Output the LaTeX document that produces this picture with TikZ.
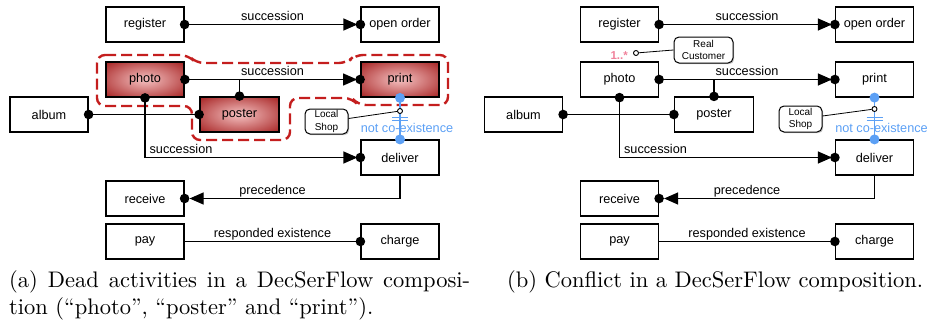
\documentclass[tikz,border=0pt]{standalone}
\usepackage{fontspec}
\newfontfamily\diafont{Liberation Sans}
\newfontfamily\capfont{lmroman10-regular.otf}
\usetikzlibrary{arrows.meta,calc,shadows}

\definecolor{deadred}{RGB}{196,30,30}
\definecolor{deadin}{RGB}{238,180,180}
\definecolor{deadout}{RGB}{170,42,42}
\definecolor{ncblue}{RGB}{92,160,245}
\definecolor{cardpink}{RGB}{240,130,155}

% soft radial fill, light in the middle and red towards the border
\pgfdeclareradialshading{deadshade}{\pgfpoint{0bp}{0bp}}{%
  color(0bp)=(deadin); color(3bp)=(deadin); color(34bp)=(deadout);
  color(72bp)=(deadout!88!black)}

\tikzset{
  act/.style={draw, line width=1.2pt, fill=white, minimum width=78pt,
    minimum height=35pt, inner sep=0pt,
    font=\diafont\fontsize{12.7}{15}\selectfont},
  dead/.style={shading=deadshade, line width=1.8pt},
  live/.style={},
  link/.style={line width=1.2pt},
  succ/.style={link, -{Triangle[length=14pt,width=12pt]}, shorten >=3pt},
  prec/.style={link, -{Triangle[length=14pt,width=12pt]}, shorten >=5pt},
  lbl/.style={font=\diafont\fontsize{12.7}{15}\selectfont, inner sep=0pt,
    anchor=base},
  memo/.style={draw, line width=1pt, rounded corners=5pt, fill=white,
    align=center, inner sep=1pt,
    font=\diafont\fontsize{10}{12.5}\selectfont,
    drop shadow={shadow xshift=1.2pt, shadow yshift=-1.2pt, opacity=0.45}},
  joint/.style={circle, draw, line width=0.9pt, fill=white, inner sep=0pt,
    minimum size=5pt},
  capt/.style={anchor=base west, inner sep=0pt,
    font=\capfont\fontsize{22.5}{27}\selectfont},
}

% One DecSerFlow composition: #1 name prefix, #2 style of photo/poster/print,
% #3 horizontal offset
\newcommand\decpanel[3]{%
  \node[act] (#1reg) at (#3+145,24.5) {register};
  \node[act] (#1open) at (#3+400,24.5) {open order};
  \node[act,#2] (#1photo) at (#3+145,79.5) {photo};
  \node[act,#2] (#1print) at (#3+400,79.5) {print};
  \node[act] (#1album) at (#3+49,114.5) {album};
  \node[act,#2,minimum width=79pt] (#1poster) at (#3+239.5,114.5) {poster};
  \node[act] (#1deliver) at (#3+400,157.5) {deliver};
  \node[act] (#1receive) at (#3+145,198.5) {receive};
  \node[act] (#1pay) at (#3+145,241.5) {pay};
  \node[act] (#1charge) at (#3+400,241.5) {charge};
  % constraints
  \draw[succ] (#1reg.east) -- node[lbl, yshift=4.5pt] {succession} (#1open.west);
  \draw[succ] (#1photo.east) -- node[lbl, yshift=4.5pt] {succession} (#1print.west);
  \draw[link] (#1poster.north) -- (#1poster.north |- #1photo.east);
  \draw[link] (#1album.east) -- (#1poster.west);
  \draw[succ] (#1photo.south) |- node[lbl, anchor=base west, pos=0.5,
    xshift=4pt, yshift=4.5pt] {succession} (#1deliver.west);
  \draw[prec] (#1deliver.south) |- (#1receive.east);
  \node[lbl, yshift=4.5pt] at ($(#1receive.east)!0.5!(#1receive.east -| #1charge.west)$) {precedence};
  \draw[link] (#1pay.east) -- node[lbl, yshift=4.5pt] {responded existence} (#1charge.west);
  \foreach \a in {reg.east, open.west, photo.east, print.west, poster.north,
      album.east, poster.west, photo.south, deliver.west, receive.east,
      charge.west}
    \fill (#1\a) circle (4.8pt);
  % not co-existence
  \node[lbl, text=ncblue] at ([xshift=7pt, yshift=-35pt]#1print.south) {not co-existence};
  \draw[ncblue, line width=1.2pt] (#1print.south) -- (#1deliver.north);
  \draw[ncblue, line width=1pt] ([xshift=-8pt, yshift=-19.5pt]#1print.south) -- ++(16,0);
  \draw[ncblue, line width=1pt] ([xshift=-8pt, yshift=-23pt]#1print.south) -- ++(16,0);
  \fill[ncblue] (#1print.south) circle (5pt);
  \fill[ncblue] (#1deliver.north) circle (5pt);
}

\begin{document}
\begin{tikzpicture}[x=1pt, y=-1pt]
\useasboundingbox (0,0) rectangle (929,324);

% (a) dead activities, grouped by a dashed outline
\draw[deadred, line width=2.4pt, dash pattern=on 11pt off 5pt, rounded corners=8pt]
  (97,55) -- (188,55) -- (196,63) -- (347,63) -- (355,55) -- (448,55)
  -- (448,105) -- (358,105) -- (352,98) -- (290,98) -- (290,140)
  -- (192,140) -- (192,106) -- (97,106) -- cycle;
\decpanel{A}{dead}{0}
\node[memo, minimum width=43pt, minimum height=25pt] (Ashop) at (326.5,121.5) {Local\\Shop};
\node[joint] (Apin) at (400,111) {};
\draw[line width=0.8pt] ([yshift=3pt]Ashop.east) -- (Apin);

% (b) conflict
\decpanel{B}{live}{474.5}
\node[memo, minimum width=43pt, minimum height=26pt] (Bshop) at (800.5,119) {Local\\Shop};
\node[joint] (Bpin) at (874.5,109) {};
\draw[line width=0.8pt] ([yshift=3pt]Bshop.east) -- (Bpin);
\node[memo, minimum width=59pt, minimum height=26pt] (Breal) at (703.5,50) {Real\\Customer};
\node[joint] (Bcard) at (636,53) {};
\draw[line width=0.8pt] (Breal.west) -- (Bcard);
\node[font=\diafont\bfseries\fontsize{11.5}{13}\selectfont, text=cardpink,
  anchor=base east, inner sep=0pt] (Bmult) at ([xshift=-8pt, yshift=-6pt]Bcard.center) {1..*};

% captions
\node[capt] (capA1) at (9,287) {\makebox[461pt][s]{(a) Dead activities in a DecSerFlow composi-}};
\node[capt] (capA2) at (9,314) {tion (“photo”, “poster” and “print”).};
\node[capt] (capB) at (507,287) {(b) Conflict in a DecSerFlow composition.};
\end{tikzpicture}
\end{document}
